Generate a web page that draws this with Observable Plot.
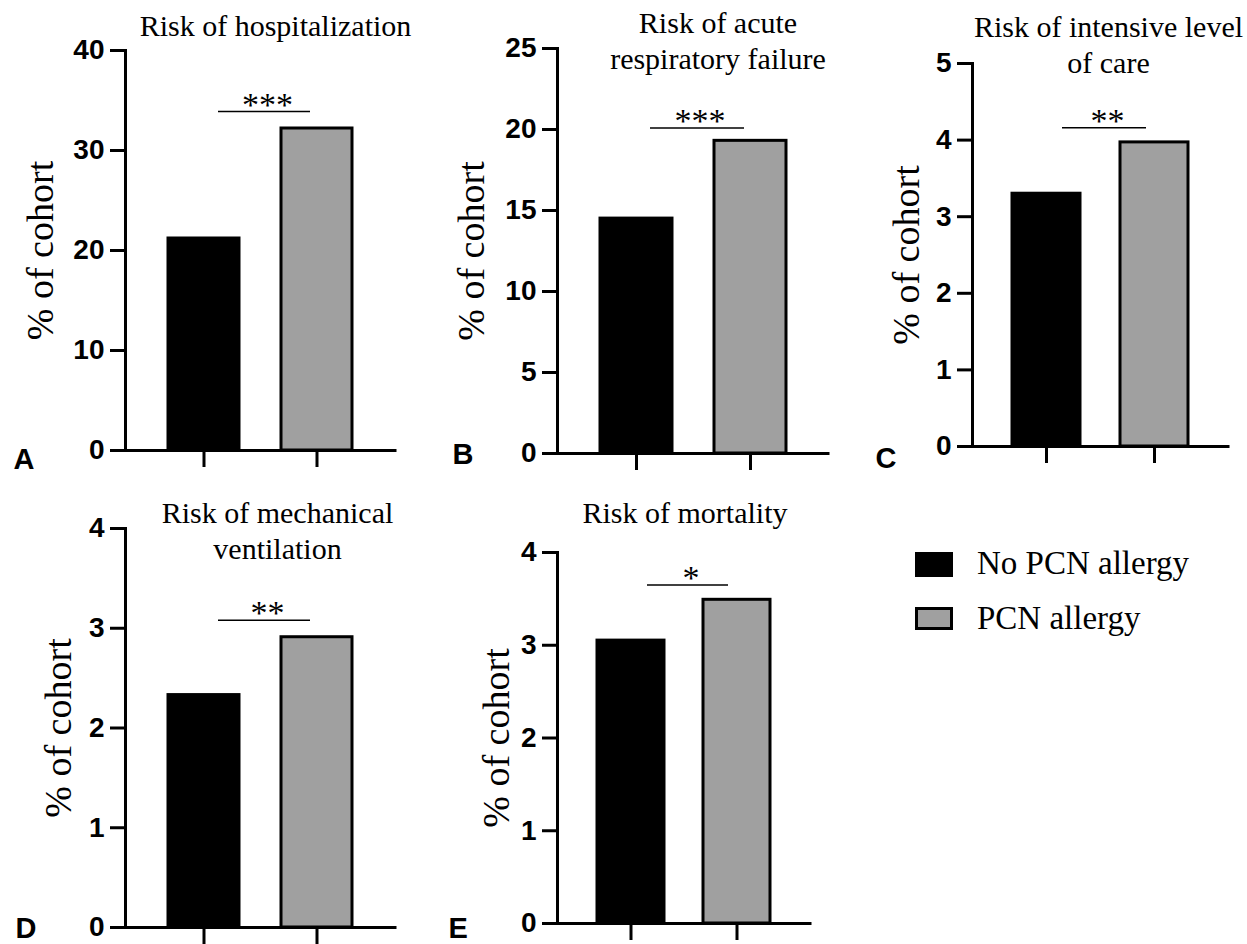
<!DOCTYPE html>
<html>
<head>
<meta charset="utf-8">
<script src="https://cdn.jsdelivr.net/npm/d3@7"></script>
<script src="https://cdn.jsdelivr.net/npm/@observablehq/plot@0.6"></script>
<style>
  body { margin: 0; background: #fff; }
  #root { position: relative; width: 1247px; height: 944px; overflow: hidden; background: #fff; }
  .panel { position: absolute; }
  .legend-swatch { position: absolute; box-sizing: border-box; }
  .legend-text { position: absolute; font-family: "Liberation Serif", "Times New Roman", serif; font-size: 33px; line-height: 33px; color: #000; white-space: nowrap; }
</style>
</head>
<body>
<div id="root"></div>
<script>
// ---- data ----
const panelLetters = ["A", "B", "C", "D", "E"];
const panelTitles = [
  "Risk of hospitalization",
  "Risk of acute\nrespiratory failure",
  "Risk of intensive level\nof care",
  "Risk of mechanical\nventilation",
  "Risk of mortality"
];
const groups = ["No PCN allergy", "PCN allergy"];
const noAllergyValues = [21.2, 14.5, 3.30, 2.33, 3.05];
const allergyValues = [32.2, 19.3, 3.97, 2.91, 3.49];
const yMaxValues = [40, 25, 5, 4, 4];
const yTickValues = [[0, 10, 20, 30, 40], [0, 5, 10, 15, 20, 25], [0, 1, 2, 3, 4, 5], [0, 1, 2, 3, 4], [0, 1, 2, 3, 4]];
const sigLabels = ["***", "***", "**", "**", "*"];
const sigLevels = [33.9, 20.1, 4.16, 3.08, 3.65];
const yLabel = "% of cohort";
const groupColors = ["#000000", "#a0a0a0"];

// ---- layout (pixels) ----
const layout = [
  {left: 0,   top: 0,   width: 420, height: 480, ml: 125, mr: 25, mt: 50, mb: 30, titleDx: 15, titleDy: -15, labelDx: -85, letterDx: -112, letterDy: 18},
  {left: 420, top: 0,   width: 420, height: 480, ml: 137, mr: 12, mt: 48, mb: 27, titleDx: 25, titleDy: 20,  labelDx: -86, letterDx: -105, letterDy: 10},
  {left: 840, top: 0,   width: 407, height: 480, ml: 132, mr: 19, mt: 63, mb: 34, titleDx: 8,  titleDy: 9,   labelDx: -66, letterDx: -97,  letterDy: 21},
  {left: 0,   top: 480, width: 420, height: 464, ml: 125, mr: 25, mt: 48, mb: 17, titleDx: 17, titleDy: 30,  labelDx: -67, letterDx: -110, letterDy: 10},
  {left: 420, top: 480, width: 420, height: 464, ml: 137, mr: 30, mt: 72, mb: 21, titleDx: 1,  titleDy: -30, labelDx: -61, letterDx: -109, letterDy: 14}
];

const serif = "Liberation Serif, Times New Roman, serif";
const sans = "Liberation Sans, Arial, Helvetica, sans-serif";
const root = document.getElementById("root");

panelLetters.forEach((letter, i) => {
  const L = layout[i];
  const rows = groups.map((g, j) => ({group: g, value: (j === 0 ? noAllergyValues : allergyValues)[i]}));
  const sigRows = [{label: sigLabels[i], level: sigLevels[i]}];
  const plot = Plot.plot({
    width: L.width,
    height: L.height,
    marginLeft: L.ml,
    marginRight: L.mr,
    marginTop: L.mt,
    marginBottom: L.mb,
    style: {background: "transparent", color: "#000", overflow: "visible"},
    x: {domain: groups, padding: 0.37},
    y: {domain: [0, yMaxValues[i]]},
    color: {domain: groups, range: groupColors},
    marks: [
      Plot.barY(rows, {x: "group", y: "value", fill: "group", stroke: "#000", strokeWidth: 3}),
      Plot.ruleY([0], {strokeWidth: 3, strokeLinecap: "square"}),
      Plot.frame({anchor: "left", strokeWidth: 3}),
      Plot.axisY({ticks: yTickValues[i], tickFormat: d3.format("d"), tickSize: 15, tickPadding: 6, strokeWidth: 3, fontSize: 28, fontWeight: "bold", fontFamily: sans, label: null}),
      Plot.axisX({tickSize: 17, strokeWidth: 3, tickFormat: () => "", label: null}),
      Plot.ruleY(sigRows, {y: "level", x1: () => groups[0], x2: () => groups[1], insetLeft: 50, insetRight: 42, strokeWidth: 1.5}),
      Plot.text(sigRows, {y: "level", text: "label", dx: 7, dy: 4, lineAnchor: "bottom", fontSize: 34, fontFamily: serif}),
      Plot.text([panelTitles[i]], {text: (d) => d, frameAnchor: "top", dx: L.titleDx, dy: L.titleDy, lineAnchor: "bottom", lineHeight: 1.2, fontSize: 30, fontFamily: serif}),
      Plot.text([yLabel], {text: (d) => d, frameAnchor: "left", rotate: -90, dx: L.labelDx, textAnchor: "middle", lineAnchor: "middle", fontSize: 38, fontFamily: serif}),
      Plot.text([letter], {text: (d) => d, frameAnchor: "bottom-left", textAnchor: "start", lineAnchor: "bottom", dx: L.letterDx, dy: L.letterDy, fontSize: 29, fontWeight: "bold", fontFamily: sans})
    ]
  });
  const holder = document.createElement("div");
  holder.className = "panel";
  holder.style.left = L.left + "px";
  holder.style.top = L.top + "px";
  holder.appendChild(plot);
  root.appendChild(holder);
});

// ---- legend ----
const legendItems = [
  {label: groups[0], color: groupColors[0], swatchTop: 552, swatchHeight: 25, border: "none", textTop: 547},
  {label: groups[1], color: groupColors[1], swatchTop: 607, swatchHeight: 23, border: "3px solid #000", textTop: 602}
];
legendItems.forEach((item) => {
  const sw = document.createElement("div");
  sw.className = "legend-swatch";
  Object.assign(sw.style, {left: "915px", top: item.swatchTop + "px", width: "38px", height: item.swatchHeight + "px", background: item.color, border: item.border});
  root.appendChild(sw);
  const tx = document.createElement("div");
  tx.className = "legend-text";
  tx.textContent = item.label;
  Object.assign(tx.style, {left: "977px", top: item.textTop + "px"});
  root.appendChild(tx);
});
</script>
</body>
</html>
